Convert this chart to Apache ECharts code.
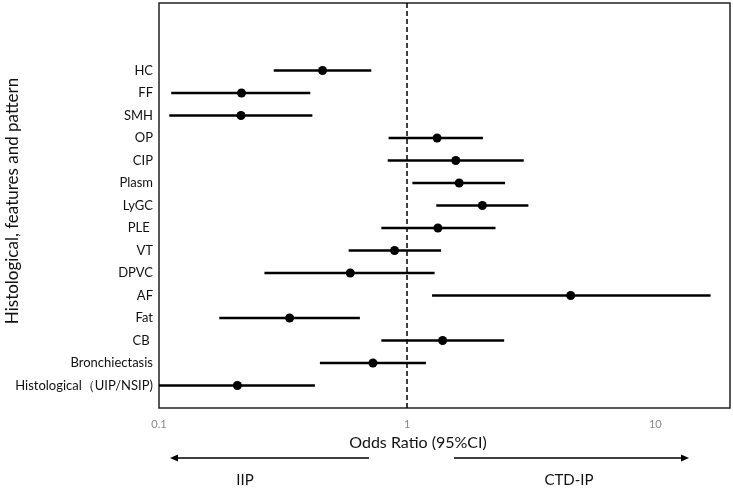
<!DOCTYPE html>
<html>
<head>
<meta charset="utf-8">
<script src="https://cdn.jsdelivr.net/npm/echarts@6/dist/echarts.min.js"></script>
<style>
  html, body { margin: 0; padding: 0; background: #fff; }
  #chart { width: 733px; height: 489px; }
</style>
</head>
<body>
<div id="chart"></div>
<script>
// rows from top to bottom
const features = ['HC', 'FF', 'SMH', 'OP', 'CIP', 'Plasm', 'LyGC', 'PLE ', 'VT', 'DPVC', 'AF', 'Fat', 'CB ', 'Bronchiectasis', 'Histological（UIP/NSIP)'];
const oddsRatio = [0.456, 0.215, 0.214, 1.32, 1.57, 1.62, 2.01, 1.33, 0.89, 0.59, 4.56, 0.336, 1.39, 0.728, 0.207];
const lowerCI = [0.290, 0.112, 0.110, 0.842, 0.835, 1.05, 1.31, 0.787, 0.581, 0.266, 1.26, 0.175, 0.787, 0.445, 0.1];
const upperCI = [0.717, 0.407, 0.415, 2.02, 2.95, 2.48, 3.08, 2.27, 1.37, 1.29, 16.7, 0.645, 2.46, 1.19, 0.425];
const xTicks = [0.1, 1, 10];

document.addEventListener('DOMContentLoaded', function() {
    const chart = echarts.init(document.getElementById('chart'));
    const n = features.length;
    const font = 'Lato, "Open Sans", sans-serif';

    // y position of each row (top row highest)
    const ciData = features.map((f, i) => [lowerCI[i], upperCI[i], n - i]);
    const pointData = features.map((f, i) => [oddsRatio[i], n - i]);

    const option = {
        backgroundColor: '#fff',
        animation: false,
        grid: {
            left: 159,
            right: 3,
            top: 3,
            bottom: 81,
            show: true,
            borderColor: '#222',
            borderWidth: 1.5,
            outerBoundsMode: 'none'
        },
        xAxis: {
            type: 'log',
            logBase: 10,
            min: 0.1,
            max: 20,
            axisLine: { show: false },
            axisTick: { show: false },
            splitLine: { show: false },
            axisLabel: {
                color: '#888',
                fontSize: 11,
                fontFamily: font,
                margin: 11,
                showMaxLabel: false,
                formatter: function(v) {
                    return xTicks.indexOf(v) >= 0 ? String(v) : '';
                }
            }
        },
        yAxis: {
            type: 'value',
            min: 0,
            max: 18,
            interval: 1,
            axisLine: { show: false },
            axisTick: { show: false },
            splitLine: { show: false },
            axisLabel: {
                color: '#111',
                fontSize: 13,
                fontFamily: font,
                margin: 6,
                formatter: function(v) {
                    const idx = n - v;
                    return (idx >= 0 && idx < n) ? features[idx] : '';
                }
            }
        },
        series: [
            {
                type: 'custom',
                data: ciData,
                encode: { x: [0, 1], y: 2 },
                clip: true,
                renderItem: function(params, api) {
                    const a = api.coord([api.value(0), api.value(2)]);
                    const b = api.coord([api.value(1), api.value(2)]);
                    return {
                        type: 'line',
                        shape: { x1: a[0], y1: a[1], x2: b[0], y2: b[1] },
                        style: { stroke: '#000', lineWidth: 2.3 }
                    };
                }
            },
            {
                type: 'scatter',
                data: pointData,
                symbol: 'circle',
                symbolSize: 9,
                itemStyle: { color: '#000', opacity: 1 },
                z: 5,
                markLine: {
                    silent: true,
                    symbol: 'none',
                    label: { show: false },
                    lineStyle: { color: '#000', type: [5, 3], width: 1.5 },
                    data: [{ xAxis: 1 }]
                }
            }
        ],
        graphic: [
            {
                type: 'text',
                x: 13, y: 201,
                rotation: Math.PI / 2,
                style: {
                    text: 'Histological, features and pattern',
                    font: '17px ' + font,
                    fill: '#111',
                    align: 'center',
                    verticalAlign: 'middle'
                }
            },
            {
                type: 'text',
                x: 418, y: 443,
                style: {
                    text: 'Odds Ratio (95%CI)',
                    font: '16px ' + font,
                    fill: '#111',
                    align: 'center',
                    verticalAlign: 'middle'
                }
            },
            // IIP arrow
            {
                type: 'line',
                shape: { x1: 369, y1: 458, x2: 176, y2: 458 },
                style: { stroke: '#000', lineWidth: 1.5 }
            },
            {
                type: 'polygon',
                shape: { points: [[170, 458], [178, 454.5], [178, 461.5]] },
                style: { fill: '#000' }
            },
            // CTD-IP arrow
            {
                type: 'line',
                shape: { x1: 454, y1: 458, x2: 683, y2: 458 },
                style: { stroke: '#000', lineWidth: 1.5 }
            },
            {
                type: 'polygon',
                shape: { points: [[689, 458], [681, 454.5], [681, 461.5]] },
                style: { fill: '#000' }
            },
            {
                type: 'text',
                x: 245, y: 480,
                style: {
                    text: 'IIP',
                    font: '15px ' + font,
                    fill: '#111',
                    align: 'center',
                    verticalAlign: 'middle'
                }
            },
            {
                type: 'text',
                x: 569, y: 480,
                style: {
                    text: 'CTD-IP',
                    font: '15px ' + font,
                    fill: '#111',
                    align: 'center',
                    verticalAlign: 'middle'
                }
            }
        ]
    };

    chart.setOption(option);

    window.addEventListener('resize', function() {
        chart.resize();
    });
});
</script>
</body>
</html>
